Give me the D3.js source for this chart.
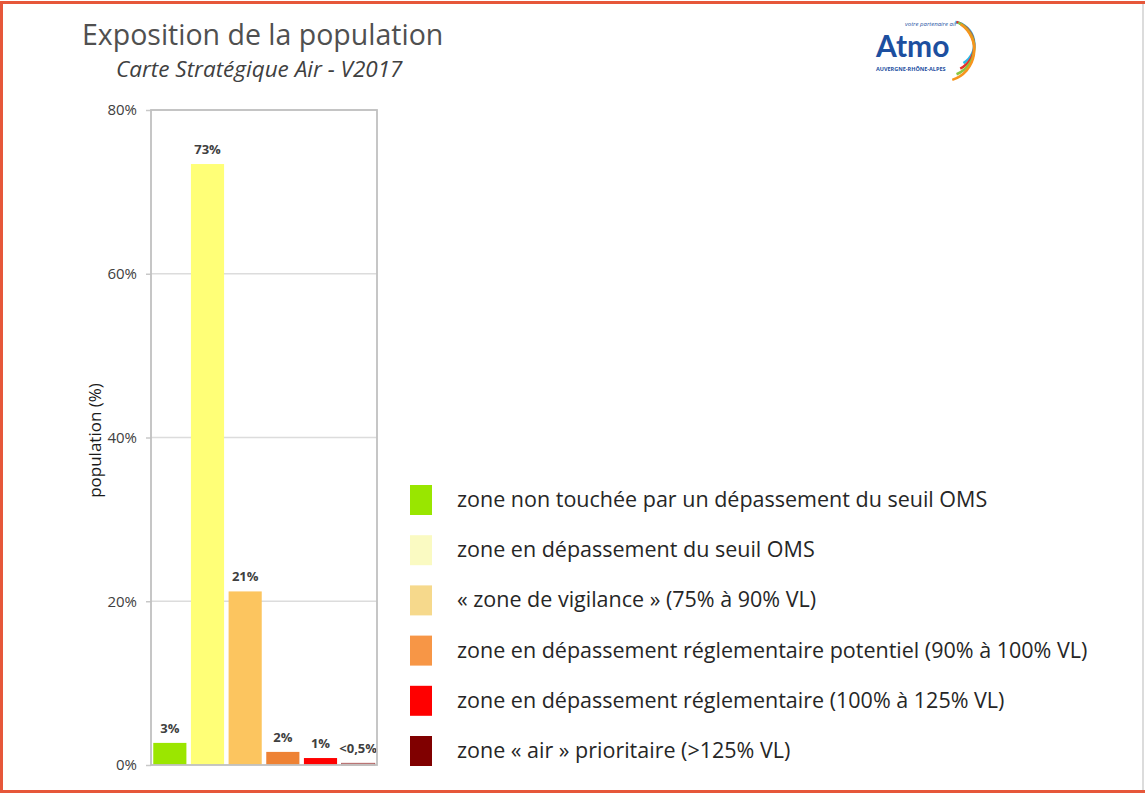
<!DOCTYPE html>
<html>
<head>
<meta charset="utf-8">
<script src="https://cdn.jsdelivr.net/npm/d3@7"></script>
<style>
  body { margin: 0; background: #fff; }
  svg { display: block; font-family: "Open Sans", Lato, sans-serif; }
</style>
</head>
<body>
<svg id="chart" width="1145" height="798"></svg>
<script>
// data
const categories = [
    'zone non touchée par un dépassement du seuil OMS',
    'zone en dépassement du seuil OMS',
    '« zone de vigilance » (75% à 90% VL)',
    'zone en dépassement réglementaire potentiel (90% à 100% VL)',
    'zone en dépassement réglementaire (100% à 125% VL)',
    'zone « air » prioritaire (>125% VL)'
]
const values      = [2.7, 73.4, 21.2, 1.6, 0.85, 0.2]
const valueLabels = ['3%', '73%', '21%', '2%', '1%', '<0,5%']
const barColors    = ['#9be600', '#ffff77', '#fcc55f', '#ee8234', '#ff0000', '#ffffff']
const legendColors = ['#99e600', '#fafac2', '#f6d98c', '#f79646', '#ff0000', '#800000']
const yTicks = [0, 20, 40, 60, 80]

const svg = d3.select('#chart')

// outer frame
svg.append('line').attr('x1', 1143).attr('x2', 1143).attr('y1', 2).attr('y2', 792)
    .attr('stroke', '#d0d0d0').attr('stroke-width', 1.5)
svg.append('path')
    .attr('d', 'M1145,2.5 H1.5 V791.5 H1145')
    .attr('fill', 'none').attr('stroke', '#e6573a').attr('stroke-width', 3)

// titles
svg.append('text').attr('x', 82).attr('y', 45)
    .attr('font-size', 28.5).attr('fill', '#505050')
    .text('Exposition de la population')
svg.append('text').attr('x', 116).attr('y', 77)
    .attr('font-size', 22.5).attr('font-style', 'italic').attr('fill', '#404040')
    .text('Carte Stratégique Air - V2017')

// plot
const plot = {left: 151, right: 377, top: 110, bottom: 765}

const x = d3.scaleBand()
    .domain(d3.range(categories.length))
    .range([plot.left, plot.right])
    .paddingInner(0.12)
    .paddingOuter(0.06)

const y = d3.scaleLinear().domain([0, 80]).range([plot.bottom, plot.top])

const grid = svg.append('g')
grid.selectAll('line').data(yTicks.slice(1)).join('line')
    .attr('x1', plot.left).attr('x2', plot.right)
    .attr('y1', d => y(d)).attr('y2', d => y(d))
    .attr('stroke', '#dcdcdc').attr('stroke-width', 1.5)

const yAxis = svg.append('g')
    .attr('transform', `translate(${plot.left},0)`)
    .call(d3.axisLeft(y).tickValues(yTicks).tickFormat(d => d + '%').tickSize(5).tickPadding(9))
yAxis.select('.domain').remove()
yAxis.selectAll('.tick line').attr('stroke', '#c8c8c8').attr('stroke-width', 1.5)
yAxis.selectAll('.tick text')
    .attr('font-family', '"Open Sans", sans-serif').attr('font-size', 15).attr('fill', '#404040')

svg.append('text')
    .attr('transform', `translate(101,${(plot.top + plot.bottom) / 2 + 3}) rotate(-90)`)
    .attr('text-anchor', 'middle')
    .attr('font-size', 17).attr('fill', '#1a1a1a')
    .text('population (%)')

// bars
svg.append('g').selectAll('rect').data(values).join('rect')
    .attr('x', (d, i) => x(i))
    .attr('y', d => y(d))
    .attr('width', x.bandwidth())
    .attr('height', d => y(0) - y(d))
    .attr('fill', (d, i) => barColors[i])
    .attr('stroke', (d, i) => i === 5 ? '#b06060' : 'none')
    .attr('stroke-width', 1)

svg.append('g').selectAll('text').data(values).join('text')
    .attr('x', (d, i) => x(i) + x.bandwidth() / 2)
    .attr('y', d => y(d) - 10)
    .attr('text-anchor', 'middle')
    .attr('font-size', 13).attr('font-weight', 'bold').attr('fill', '#404040')
    .text((d, i) => valueLabels[i])

// plot frame
svg.append('rect')
    .attr('x', plot.left).attr('y', plot.top)
    .attr('width', plot.right - plot.left).attr('height', plot.bottom - plot.top)
    .attr('fill', 'none').attr('stroke', '#c0c0c0').attr('stroke-width', 1.8)

// legend
const legend = svg.append('g').selectAll('g').data(categories).join('g')
    .attr('transform', (d, i) => `translate(410,${500 + i * 50.2})`)
legend.append('rect')
    .attr('x', 0).attr('y', -15).attr('width', 22).attr('height', 30)
    .attr('fill', (d, i) => legendColors[i])
legend.append('text')
    .attr('x', 47).attr('y', 7)
    .attr('font-size', 21.5).attr('fill', '#262626')
    .text(d => d)

// logo
const logo = svg.append('g')
logo.append('text').attr('x', 905).attr('y', 26)
    .attr('font-size', 6).attr('fill', '#1d4f9f').attr('font-style', 'italic')
    .text('votre partenaire air')
logo.append('text').attr('x', 876).attr('y', 57)
    .attr('font-family', 'Lato, sans-serif')
    .attr('font-size', 30).attr('font-weight', 'bold').attr('fill', '#1d4f9f')
    .text('Atmo')
logo.append('text').attr('x', 876).attr('y', 71)
    .attr('font-size', 5.5).attr('font-weight', 'bold').attr('fill', '#1d4f9f')
    .text('AUVERGNE-RHÔNE-ALPES')
const arcColors = ['#2bb8e6', '#e4322b', '#8cc63f', '#f7941d']
const arc = d3.arc()
arcColors.forEach((c, i) => {
    logo.append('path')
        .attr('transform', `translate(${952 - i * 3},${44 + i * 2})`)
        .attr('d', arc({innerRadius: 21 + i * 3, outerRadius: 23.5 + i * 3,
                        startAngle: 0.15 + i * 0.15, endAngle: 2.6 + i * 0.08}))
        .attr('fill', c)
})
</script>
</body>
</html>
